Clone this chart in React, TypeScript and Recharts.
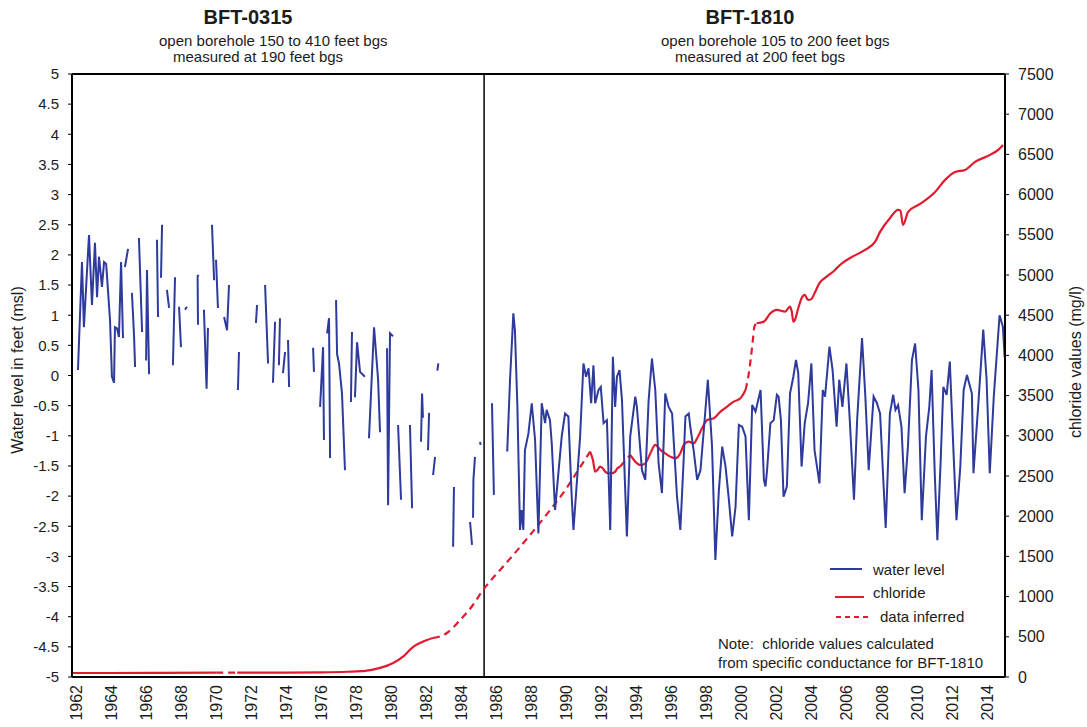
import React from 'react';
import { ComposedChart, Line, XAxis, YAxis, ReferenceLine } from 'recharts';

// ---------- tick labels ----------
const yearTicks = [1962, 1964, 1966, 1968, 1970, 1972, 1974, 1976, 1978, 1980, 1982, 1984, 1986, 1988, 1990, 1992, 1994, 1996, 1998, 2000, 2002, 2004, 2006, 2008, 2010, 2012, 2014];
const levelTicks = [-5, -4.5, -4, -3.5, -3, -2.5, -2, -1.5, -1, -0.5, 0, 0.5, 1, 1.5, 2, 2.5, 3, 3.5, 4, 4.5, 5];
const chlorideTicks = [0, 500, 1000, 1500, 2000, 2500, 3000, 3500, 4000, 4500, 5000, 5500, 6000, 6500, 7000, 7500];

const yearDomain = [1961.77, 2015.02];
const wellChangeYear = 1985.29;

// ---------- water level, BFT-0315 (segments with gaps) [year, feet msl] ----------
const bft0315Segments: [number, number][][] = [
  [[1962.11, 0.09], [1962.34, 1.88], [1962.45, 0.8], [1962.74, 2.33], [1962.91, 1.17], [1963.08, 2.2], [1963.2, 1.3], [1963.31, 1.97], [1963.48, 1.47], [1963.6, 1.88], [1963.72, 1.85], [1963.94, 0.92], [1964.05, -0.02], [1964.17, -0.12], [1964.22, 0.8], [1964.34, 0.78], [1964.45, 0.64], [1964.57, 1.88], [1964.68, 0.62]],
  [[1964.79, 1.8], [1964.97, 2.1]],
  [[1965.19, 1.37], [1965.31, 0.67], [1965.37, 0.14]],
  [[1965.59, 2.28], [1965.77, 0.72]],
  [[1966.0, 0.25], [1966.05, 1.75], [1966.17, 0.02]],
  [[1966.62, 2.25], [1966.68, 0.97]],
  [[1966.85, 1.62], [1966.91, 2.5]],
  [[1967.19, 1.42], [1967.31, 1.12]],
  [[1967.53, 0.17], [1967.65, 1.63]],
  [[1967.88, 1.14], [1967.99, 0.47]],
  [[1968.22, 1.09], [1968.33, 1.14]],
  [[1969.0, 1.67], [1968.94, 1.65], [1968.96, 0.86], [1969.02, 0.86]],
  [[1969.3, 1.09], [1969.45, -0.22], [1969.53, 0.79]],
  [[1969.76, 2.5], [1969.88, 1.58]],
  [[1969.99, 1.92], [1970.1, 1.12]],
  [[1970.45, 0.97], [1970.62, 0.75], [1970.73, 1.5]],
  [[1971.24, -0.24], [1971.3, 0.39]],
  [[1972.27, 0.87], [1972.33, 1.17]],
  [[1972.79, 1.5], [1972.96, 0.2]],
  [[1973.24, -0.12], [1973.36, 0.89]],
  [[1973.58, 0.17], [1973.64, 0.95]],
  [[1973.81, 0.04], [1973.93, 0.39]],
  [[1974.1, 0.59], [1974.16, -0.19]],
  [[1975.53, 0.46], [1975.58, 0.06]],
  [[1975.93, -0.52], [1976.1, 0.47], [1976.15, -1.07]],
  [[1976.33, 0.7], [1976.44, 0.95], [1976.5, -1.37]],
  [[1976.84, 1.25], [1976.9, 0.35], [1977.01, 0.2], [1977.18, -0.3], [1977.35, -1.57]],
  [[1977.69, -0.44], [1977.75, 0.72]],
  [[1977.92, -0.36], [1978.04, 0.55], [1978.21, 0.06], [1978.49, -0.02]],
  [[1978.72, -1.04], [1979.01, 0.8], [1979.24, -0.07], [1979.35, -0.94]],
  [[1979.75, 0.45], [1979.81, -2.15], [1979.92, 0.7], [1980.09, 0.65]],
  [[1980.38, -0.82], [1980.55, -2.06]],
  [[1981.06, -0.82], [1981.18, -2.2]],
  [[1981.69, -1.1], [1981.75, -0.3], [1981.8, -0.7]],
  [[1982.09, -1.24], [1982.15, -0.62]],
  [[1982.38, -1.65], [1982.49, -1.35]],
  [[1982.62, 0.08], [1982.68, 0.2]],
  [[1983.52, -2.84], [1983.57, -1.85]],
  [[1984.49, -2.43], [1984.6, -2.81]],
  [[1984.66, -2.36], [1984.68, -1.73], [1984.77, -1.35]],
  [[1985.06, -1.1], [1985.09, -1.15]],
];

// ---------- water level, BFT-1810 [year, feet msl] ----------
const bft1810Segments: [number, number][][] = [
  [[1985.74, -0.46], [1985.85, -1.98]],
  [[1986.61, -1.26], [1986.77, -0.07], [1986.96, 1.03], [1987.05, 0.75], [1987.19, -0.52], [1987.34, -2.56], [1987.43, -2.23], [1987.53, -2.56], [1987.62, -1.24], [1987.82, -0.96], [1988.01, -0.46], [1988.2, -1.07], [1988.39, -2.62], [1988.58, -0.46], [1988.77, -0.79], [1988.86, -0.57], [1989.05, -0.74], [1989.15, -1.12], [1989.34, -2.23], [1989.53, -1.62], [1989.72, -1.01], [1989.91, -0.63], [1990.1, -0.68], [1990.29, -2.01], [1990.39, -2.56], [1990.58, -1.79], [1990.77, -1.01], [1990.96, 0.2], [1991.11, -0.02], [1991.25, 0.12], [1991.4, -0.46], [1991.53, 0.17], [1991.63, -0.46], [1991.82, -0.24], [1991.95, -0.19], [1992.11, -0.79], [1992.3, -0.74], [1992.49, -2.56], [1992.64, 0.31], [1992.77, -0.52], [1992.87, -0.02], [1993.02, 0.09], [1993.16, -0.41], [1993.44, -2.67], [1993.63, -1.01], [1993.92, -0.35], [1994.01, -0.52], [1994.3, -1.57], [1994.49, -1.73], [1994.68, -0.41], [1994.87, 0.28], [1995.06, -0.24], [1995.25, -1.46], [1995.44, -1.95], [1995.63, -0.3], [1995.82, -0.52], [1996.02, -0.63], [1996.3, -2.01], [1996.49, -2.56], [1996.68, -1.4], [1996.78, -0.68], [1996.97, -0.63], [1997.06, -0.85], [1997.25, -1.24], [1997.45, -1.73], [1997.64, -1.57], [1997.83, -0.9], [1998.06, -0.07], [1998.3, -1.18], [1998.49, -3.06], [1998.69, -1.9], [1998.88, -1.18], [1999.07, -1.51], [1999.26, -2.06], [1999.45, -2.67], [1999.64, -2.18], [1999.83, -0.82], [2000.02, -0.85], [2000.21, -1.01], [2000.4, -2.4], [2000.59, -0.49], [2000.78, -0.6], [2001.07, -0.24], [2001.26, -1.73], [2001.35, -1.84], [2001.44, -1.57], [2001.63, -0.79], [2001.82, -0.74], [2002.0, -0.32], [2002.1, -0.35], [2002.23, -0.74], [2002.38, -2.01], [2002.57, -1.84], [2002.75, -0.3], [2002.94, -0.02], [2003.09, 0.26], [2003.22, 0.04], [2003.41, -1.51], [2003.59, -0.79], [2003.78, -0.46], [2003.97, 0.2], [2004.15, -1.24], [2004.43, -1.79], [2004.62, -0.24], [2004.75, -0.35], [2005.0, 0.48], [2005.18, 0.09], [2005.41, -0.85], [2005.56, -0.07], [2005.74, -0.52], [2005.97, 0.2], [2006.15, -0.68], [2006.4, -2.06], [2006.58, -0.74], [2006.86, 0.62], [2007.05, -0.35], [2007.24, -1.57], [2007.52, -0.35], [2007.71, -0.46], [2007.89, -0.63], [2008.21, -2.53], [2008.45, -0.63], [2008.64, -0.32], [2008.77, -0.57], [2008.92, -0.49], [2009.11, -0.85], [2009.29, -1.95], [2009.48, -1.18], [2009.71, 0.26], [2009.89, 0.53], [2010.08, -0.24], [2010.27, -2.4], [2010.51, -1.01], [2010.7, -0.52], [2010.83, 0.09], [2011.01, -1.62], [2011.16, -2.73], [2011.35, -1.4], [2011.5, -0.19], [2011.69, -0.32], [2011.87, 0.23], [2012.1, -1.4], [2012.25, -2.4], [2012.47, -1.51], [2012.66, -0.24], [2012.85, 0.01], [2013.13, -0.3], [2013.22, -1.62], [2013.5, -0.46], [2013.78, 0.76], [2013.97, -0.07], [2014.15, -1.62], [2014.38, -0.35], [2014.71, 1.0], [2014.9, 0.81], [2015.0, 0.3]],
];

// ---------- chloride (mg/l) [year, value] ----------
const chlorideMeasuredA: [number, number][] = [[1961.77, 50], [1964, 50], [1967, 52], [1970.0, 55]];
const chlorideInferredA: [number, number][] = [[1970.0, 55], [1971.2, 55]];
const chlorideMeasuredB: [number, number][] = [[1971.2, 55], [1974, 55], [1976, 58], [1977.5, 65], [1978.5, 75], [1979.3, 110], [1980.1, 175], [1980.7, 260], [1981.23, 373], [1981.7, 430], [1982.03, 460], [1982.37, 485]];
const chlorideInferredB: [number, number][] = [[1982.37, 485], [1983.17, 547], [1983.92, 709], [1984.6, 880], [1985.23, 1082], [1986.2, 1331], [1987.0, 1530], [1988.0, 1790], [1989.0, 2060], [1990.0, 2350], [1990.8, 2620], [1991.34, 2803]];
const chlorideMeasuredC: [number, number][] = [[1991.34, 2803], [1991.5, 2699], [1991.63, 2554], [1991.76, 2575], [1991.91, 2617], [1992.05, 2600], [1992.2, 2554], [1992.39, 2534], [1992.58, 2534], [1992.77, 2554], [1992.9, 2596], [1993.06, 2617]];
const chlorideInferredC: [number, number][] = [[1993.06, 2617], [1993.35, 2690], [1993.63, 2762]];
const chlorideMeasuredD: [number, number][] = [[1993.63, 2762], [1993.92, 2679], [1994.2, 2637], [1994.49, 2658], [1994.78, 2782], [1995.06, 2886], [1995.35, 2824], [1995.63, 2782], [1995.92, 2741], [1996.21, 2720], [1996.49, 2782], [1996.68, 2886], [1996.97, 2927], [1997.25, 2906], [1997.45, 2969], [1997.73, 3093], [1998.02, 3197], [1998.4, 3218], [1998.78, 3300], [1999.16, 3363], [1999.54, 3425], [1999.92, 3467], [2000.21, 3570]];
const chlorideInferredD: [number, number][] = [[2000.21, 3570], [2000.4, 3778], [2000.59, 4110], [2000.72, 4359], [2000.84, 4400]];
const chlorideMeasuredE: [number, number][] = [[2000.84, 4400], [2001.26, 4420], [2001.63, 4524], [2002.0, 4565], [2002.47, 4545], [2002.75, 4607], [2002.85, 4545], [2002.94, 4420], [2003.03, 4441], [2003.22, 4586], [2003.41, 4711], [2003.59, 4752], [2003.78, 4690], [2003.97, 4700], [2004.15, 4773], [2004.43, 4900], [2004.75, 4964], [2005.32, 5063], [2005.6, 5125], [2006.18, 5212], [2007.03, 5312], [2007.6, 5411], [2007.89, 5536], [2008.46, 5710], [2008.92, 5810], [2009.05, 5800], [2009.2, 5623], [2009.49, 5785], [2010.17, 5884], [2011.03, 6033], [2011.6, 6183], [2012.17, 6282], [2012.74, 6307], [2013.31, 6407], [2014.17, 6494], [2014.63, 6556], [2014.91, 6618]];

const chlorideMeasured = [chlorideMeasuredA, chlorideMeasuredB, chlorideMeasuredC, chlorideMeasuredD, chlorideMeasuredE];
const chlorideInferred = [chlorideInferredA, chlorideInferredB, chlorideInferredC, chlorideInferredD];

// ---------- helpers ----------
const toRows = (pts: [number, number][]) => pts.map(([x, v]) => ({ x, v }));
const joinSegments = (segs: [number, number][][]) => {
  const rows: { x: number; v: number | null }[] = [];
  segs.forEach((seg, i) => {
    if (i > 0) rows.push({ x: seg[0][0], v: null });
    seg.forEach(([x, v]) => rows.push({ x, v }));
  });
  return rows;
};

const waterRows = joinSegments([...bft0315Segments, ...bft1810Segments]);

const FONT = '"Liberation Sans", Arial, Helvetica, sans-serif';
const BLUE = '#2E3A9C';
const RED = '#E01B2F';
const INK = '#1c1c1c';

const YearTick = (props: any) => {
  const { x, y, payload } = props;
  return (
    <text
      transform={`translate(${x},${y}) rotate(-90)`}
      textAnchor="end"
      dominantBaseline="central"
      fontSize={16}
      fontFamily={FONT}
      fill={INK}
    >
      {payload.value}
    </text>
  );
};

const abs = (left: number, top: number, extra: React.CSSProperties = {}): React.CSSProperties => ({
  position: 'absolute',
  left,
  top,
  whiteSpace: 'nowrap',
  fontFamily: FONT,
  color: INK,
  ...extra,
});

export default function App() {
  return (
    <div style={{ position: 'absolute', left: 0, top: 0, width: 1087, height: 727, background: '#fff' }}>
      <ComposedChart width={1087} height={727} margin={{ top: 74, right: 0, bottom: 0, left: 0 }}>
        <XAxis
          dataKey="x"
          type="number"
          domain={yearDomain}
          allowDataOverflow
          ticks={yearTicks}
          interval={0}
          height={50}
          tick={<YearTick />}
          tickLine={false}
          axisLine={{ stroke: '#000', strokeWidth: 2 }}
        />
        <YAxis
          yAxisId="wl"
          orientation="left"
          width={72}
          domain={[-5, 5]}
          ticks={levelTicks}
          interval={0}
          allowDataOverflow
          tickLine={{ stroke: '#000' }}
          tickSize={4}
          tickMargin={9}
          tick={{ fontSize: 15, fontFamily: FONT, fill: INK }}
          axisLine={{ stroke: '#000', strokeWidth: 2 }}
        />
        <YAxis
          yAxisId="cl"
          orientation="right"
          width={82}
          domain={[0, 7500]}
          ticks={chlorideTicks}
          interval={0}
          allowDataOverflow
          tickLine={{ stroke: '#000' }}
          tickSize={4}
          tickMargin={9}
          tick={{ fontSize: 16, fontFamily: FONT, fill: INK }}
          axisLine={{ stroke: '#000', strokeWidth: 2 }}
        />
        <ReferenceLine yAxisId="wl" y={5} stroke="#000" strokeWidth={2} />
        <ReferenceLine yAxisId="wl" x={wellChangeYear} stroke="#111" strokeWidth={1.6} />

        {chlorideMeasured.map((seg, i) => (
          <Line
            key={`cm${i}`}
            yAxisId="cl"
            data={toRows(seg)}
            dataKey="v"
            type="monotone"
            stroke={RED}
            strokeWidth={2.2}
            dot={false}
            activeDot={false}
            isAnimationActive={false}
          />
        ))}
        {chlorideInferred.map((seg, i) => (
          <Line
            key={`ci${i}`}
            yAxisId="cl"
            data={toRows(seg)}
            dataKey="v"
            type="monotone"
            stroke={RED}
            strokeWidth={2.2}
            strokeDasharray="7 5"
            dot={false}
            activeDot={false}
            isAnimationActive={false}
          />
        ))}
        <Line
          yAxisId="wl"
          data={waterRows}
          dataKey="v"
          type="linear"
          stroke={BLUE}
          strokeWidth={2}
          connectNulls={false}
          dot={false}
          activeDot={false}
          isAnimationActive={false}
        />
      </ComposedChart>

      {/* titles */}
      <div style={abs(200, 6, { width: 96, textAlign: 'center', fontWeight: 'bold', fontSize: 20, lineHeight: '22px' })}>BFT-0315</div>
      <div style={abs(159, 32, { fontSize: 15, lineHeight: '18px' })}>open borehole 150 to 410 feet bgs</div>
      <div style={abs(173, 48, { fontSize: 15, lineHeight: '18px' })}>measured at 190 feet bgs</div>

      <div style={abs(702, 6, { width: 96, textAlign: 'center', fontWeight: 'bold', fontSize: 20, lineHeight: '22px' })}>BFT-1810</div>
      <div style={abs(661, 32, { fontSize: 15, lineHeight: '18px' })}>open borehole 105 to 200 feet bgs</div>
      <div style={abs(675, 48, { fontSize: 15, lineHeight: '18px' })}>measured at 200 feet bgs</div>

      {/* axis titles */}
      <div style={abs(18, 370, { fontSize: 16, lineHeight: '18px', transform: 'translate(-50%, -50%) rotate(-90deg)' })}>Water level in feet (msl)</div>
      <div style={abs(1076, 362, { fontSize: 16, lineHeight: '18px', transform: 'translate(-50%, -50%) rotate(-90deg)' })}>chloride values (mg/l)</div>

      {/* legend */}
      <div style={{ position: 'absolute', left: 830, top: 568, width: 32, height: 0, borderTop: `2px solid ${BLUE}` }} />
      <div style={abs(873, 561, { fontSize: 15, lineHeight: '18px' })}>water level</div>
      <div style={{ position: 'absolute', left: 835, top: 596, width: 29, height: 0, borderTop: `2px solid ${RED}` }} />
      <div style={abs(873, 584, { fontSize: 15, lineHeight: '18px' })}>chloride</div>
      <svg style={{ position: 'absolute', left: 836, top: 614 }} width={34} height={6}>
        <line x1={0} y1={3} x2={34} y2={3} stroke={RED} strokeWidth={2} strokeDasharray="5 4" />
      </svg>
      <div style={abs(880, 608, { fontSize: 15, lineHeight: '18px' })}>data inferred</div>

      {/* note */}
      <div style={abs(718, 634, { fontSize: 15, lineHeight: '19px' })}>
        Note:&nbsp; chloride values calculated
        <br />
        from specific conductance for BFT-1810
      </div>
    </div>
  );
}
